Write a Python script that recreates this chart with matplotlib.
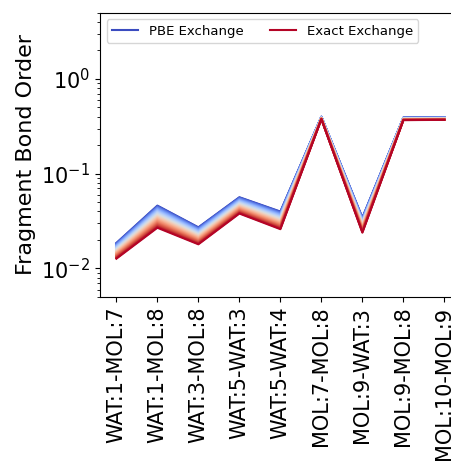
import numpy as np
import matplotlib
matplotlib.use('Agg')
import matplotlib.pyplot as plt

#%% data
pairs = ['WAT:1-MOL:7', 'WAT:1-MOL:8', 'WAT:3-MOL:8', 'WAT:5-WAT:3', 'WAT:5-WAT:4',
         'MOL:7-MOL:8', 'MOL:9-WAT:3', 'MOL:9-MOL:8', 'MOL:10-MOL:9']
pbe = [0.0186, 0.0461, 0.0272, 0.0565, 0.0399, 0.400, 0.0344, 0.391, 0.393]
exact = [0.0127, 0.0269, 0.0180, 0.0380, 0.0260, 0.377, 0.0239, 0.368, 0.370]

#%% exact exchange fraction for the shaded family of curves
frac = np.linspace(0, 1, 41)

fig = plt.figure(figsize=(4.51, 4.61), dpi=100)
# right edge runs past the figure, as in the cropped original
ax = fig.add_axes([0.2217, 0.3557, 0.800, 0.6167])
cmap = plt.get_cmap('coolwarm')

x = np.arange(len(pairs))
pbe = np.array(pbe)
exact = np.array(exact)
for f in frac:
    y = (1 - f) * pbe + f * exact
    lab = None
    if f == 0:
        lab = 'PBE Exchange'
    elif f == 1:
        lab = 'Exact Exchange'
    ax.plot(x, y, color=cmap(f), lw=1.5, label=lab)

ax.set_yscale('log')
ax.set_ylim(5e-3, 5)
ax.set_xticks(x)
ax.set_xticklabels(pairs, rotation=90, fontsize=15)
ax.tick_params(axis='y', labelsize=15)
ax.set_ylabel('Fragment Bond Order', fontsize=16)
ax.legend(loc='upper left', ncol=2, fontsize=9.5)

fig.savefig('out.png', dpi=100)
